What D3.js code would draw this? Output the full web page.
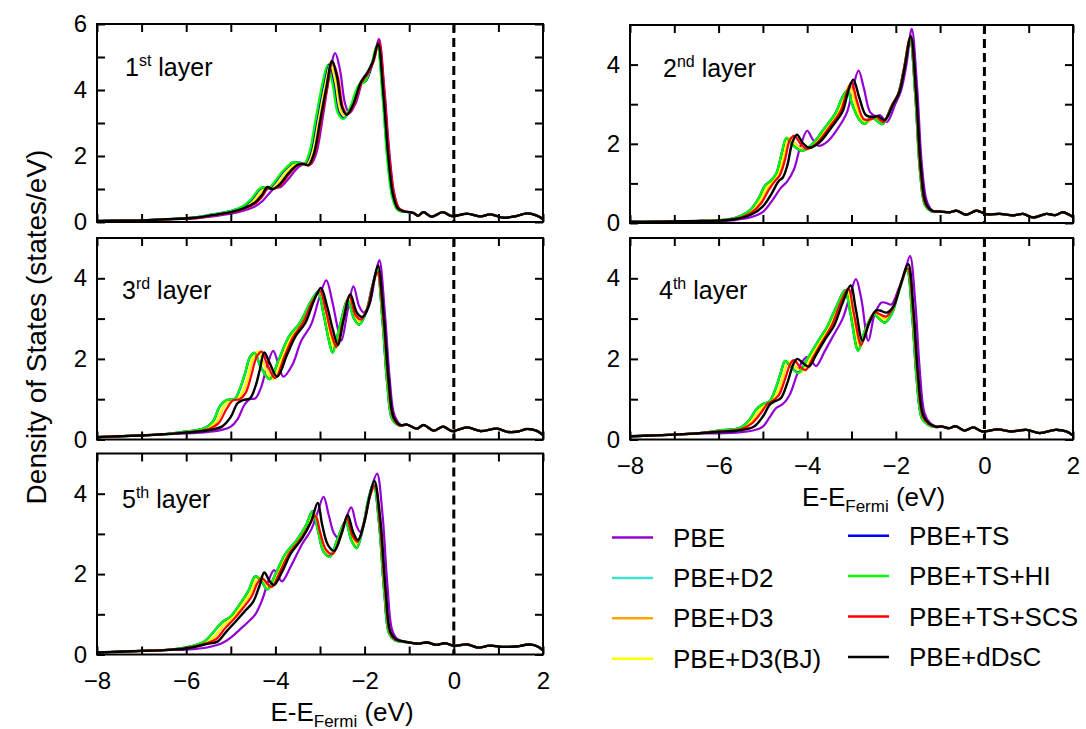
<!DOCTYPE html>
<html>
<head>
<meta charset="utf-8">
<script src="https://cdn.jsdelivr.net/npm/d3@7"></script>
<style>
  body { margin: 0; background: #fff; }
  svg text { font-family: "Liberation Sans", Arial, sans-serif; fill: #000; }
</style>
</head>
<body>
<svg id="chart" width="1086" height="729"></svg>
<script>
// methods and their colours, drawn in this order (last on top)
const methods = ["PBE", "PBE+D2", "PBE+D3", "PBE+D3(BJ)", "PBE+TS", "PBE+TS+HI", "PBE+TS+SCS", "PBE+dDsC"];
const colors = ["#9400d3", "#40e0d0", "#ffa500", "#ffff00", "#0000ff", "#00ff00", "#ff0000", "#000000"];
const layerNames = [["1", "st"], ["2", "nd"], ["3", "rd"], ["4", "th"], ["5", "th"]];
const xTickValues = [-8, -7, -6, -5, -4, -3, -2, -1, 0, 1, 2];
const xLabelValues = [-8, -6, -4, -2, 0, 2];

// ---- layer 1 ----
const L1_left = [[-8,0.03],[-7.5,0.04],[-7,0.05],[-6.5,0.08]];
const L1_right = [[-1.0,0.3],[-0.9,0.27],[-0.8,0.19],[-0.68,0.3],[-0.5,0.16],[-0.25,0.3],[-0.05,0.18],[0.3,0.25],[0.6,0.17],[0.82,0.23],[1.12,0.13],[1.4,0.18],[1.64,0.26],[1.85,0.2],[2.0,0.08]];
const L1_PBE = [[-5.8,0.11],[-5.4,0.17],[-5.0,0.25],[-4.7,0.35],[-4.45,0.48],[-4.3,0.62],[-4.15,0.85],[-4.02,1.02],[-3.88,1.06],[-3.68,1.35],[-3.47,1.68],[-3.32,1.76],[-3.2,1.76],[-3.08,2.1],[-2.94,3.15],[-2.8,4.35],[-2.66,5.12],[-2.55,4.6],[-2.44,3.6],[-2.34,3.3],[-2.2,3.6],[-2.03,4.35],[-1.9,4.6],[-1.79,4.95],[-1.68,5.55],[-1.56,4.1],[-1.45,2.2],[-1.34,0.9],[-1.23,0.42],[-1.1,0.32]];
const L1_D2 = [[-5.8,0.14],[-5.4,0.23],[-5.0,0.33],[-4.74,0.46],[-4.54,0.68],[-4.39,0.95],[-4.29,1.05],[-4.17,1.0],[-4.02,1.2],[-3.82,1.55],[-3.61,1.8],[-3.47,1.8],[-3.35,1.75],[-3.23,2.1],[-3.09,3.1],[-2.95,4.1],[-2.82,4.76],[-2.71,4.22],[-2.59,3.32],[-2.47,3.14],[-2.32,3.46],[-2.12,4.16],[-1.98,4.27],[-1.84,4.76],[-1.72,5.36],[-1.6,3.86],[-1.49,1.9],[-1.38,0.75],[-1.27,0.38],[-1.14,0.31]];
const L1_D3 = [[-5.8,0.13],[-5.4,0.21],[-5.0,0.31],[-4.71,0.44],[-4.49,0.64],[-4.34,0.88],[-4.22,1.05],[-4.11,1.0],[-3.96,1.15],[-3.76,1.5],[-3.56,1.76],[-3.42,1.78],[-3.3,1.73],[-3.18,2.08],[-3.04,3.1],[-2.9,4.1],[-2.77,4.8],[-2.66,4.32],[-2.54,3.37],[-2.43,3.21],[-2.29,3.5],[-2.09,4.2],[-1.96,4.37],[-1.83,4.8],[-1.71,5.38],[-1.59,3.9],[-1.48,1.95],[-1.37,0.78],[-1.26,0.39],[-1.13,0.31]];
const L1_D3BJ = [[-5.8,0.13],[-5.4,0.21],[-5.0,0.31],[-4.72,0.44],[-4.5,0.64],[-4.35,0.88],[-4.23,1.05],[-4.12,1.0],[-3.97,1.15],[-3.77,1.5],[-3.57,1.76],[-3.43,1.78],[-3.31,1.73],[-3.19,2.08],[-3.05,3.1],[-2.91,4.1],[-2.78,4.8],[-2.67,4.3],[-2.55,3.35],[-2.44,3.2],[-2.3,3.5],[-2.1,4.2],[-1.97,4.35],[-1.84,4.8],[-1.71,5.38],[-1.59,3.9],[-1.48,1.95],[-1.37,0.78],[-1.26,0.39],[-1.13,0.31]];
const L1_TS = [[-5.8,0.14],[-5.4,0.23],[-5.0,0.33],[-4.73,0.46],[-4.53,0.68],[-4.38,0.95],[-4.28,1.05],[-4.16,1.0],[-4.01,1.2],[-3.81,1.55],[-3.6,1.8],[-3.46,1.8],[-3.34,1.75],[-3.22,2.1],[-3.08,3.1],[-2.94,4.1],[-2.81,4.77],[-2.7,4.22],[-2.58,3.32],[-2.46,3.15],[-2.31,3.47],[-2.11,4.17],[-1.97,4.28],[-1.83,4.77],[-1.71,5.36],[-1.59,3.87],[-1.48,1.92],[-1.37,0.76],[-1.26,0.38],[-1.13,0.31]];
const L1_TSHI = [[-5.8,0.14],[-5.4,0.23],[-5.0,0.33],[-4.75,0.46],[-4.55,0.68],[-4.4,0.95],[-4.3,1.05],[-4.18,1.0],[-4.03,1.2],[-3.83,1.55],[-3.62,1.8],[-3.48,1.8],[-3.36,1.75],[-3.24,2.1],[-3.1,3.1],[-2.96,4.1],[-2.83,4.75],[-2.72,4.2],[-2.6,3.3],[-2.48,3.12],[-2.33,3.45],[-2.13,4.15],[-1.99,4.25],[-1.85,4.75],[-1.72,5.35],[-1.6,3.85],[-1.49,1.9],[-1.38,0.75],[-1.27,0.38],[-1.14,0.31]];
const L1_TSSCS = [[-5.8,0.12],[-5.4,0.2],[-5.0,0.29],[-4.7,0.4],[-4.43,0.58],[-4.28,0.8],[-4.16,1.04],[-4.05,1.0],[-3.9,1.1],[-3.7,1.44],[-3.5,1.72],[-3.36,1.77],[-3.24,1.72],[-3.12,2.05],[-2.98,3.05],[-2.84,4.05],[-2.72,4.85],[-2.6,4.4],[-2.48,3.45],[-2.38,3.27],[-2.24,3.55],[-2.06,4.25],[-1.93,4.48],[-1.8,4.85],[-1.68,5.45],[-1.56,3.95],[-1.45,2.05],[-1.34,0.85],[-1.23,0.42],[-1.1,0.32]];
const L1_dDsC = [[-5.8,0.13],[-5.4,0.21],[-5.0,0.3],[-4.7,0.42],[-4.45,0.6],[-4.3,0.82],[-4.18,1.06],[-4.07,1.0],[-3.92,1.12],[-3.72,1.45],[-3.52,1.72],[-3.38,1.76],[-3.26,1.72],[-3.14,2.05],[-3.0,3.05],[-2.86,4.05],[-2.73,4.88],[-2.62,4.4],[-2.5,3.45],[-2.4,3.25],[-2.26,3.55],[-2.08,4.25],[-1.95,4.5],[-1.82,4.85],[-1.7,5.4],[-1.58,3.9],[-1.47,2.0],[-1.36,0.8],[-1.25,0.4],[-1.12,0.32]];

// ---- layer 2 ----
const L2_left = [[-8,0.03],[-7.5,0.03],[-7,0.04],[-6.5,0.05]];
const L2_right = [[-1.0,0.29],[-0.78,0.27],[-0.63,0.31],[-0.41,0.21],[-0.18,0.31],[0.06,0.22],[0.35,0.23],[0.65,0.19],[0.87,0.23],[1.1,0.14],[1.4,0.23],[1.6,0.2],[1.77,0.27],[2.0,0.15]];
const L2_PBE = [[-6.0,0.05],[-5.6,0.08],[-5.25,0.15],[-5.0,0.28],[-4.8,0.55],[-4.6,0.88],[-4.45,1.05],[-4.3,1.35],[-4.15,1.95],[-4.0,2.33],[-3.88,2.12],[-3.75,1.95],[-3.55,2.05],[-3.3,2.4],[-3.1,2.8],[-2.96,3.45],[-2.84,3.85],[-2.72,3.4],[-2.58,2.8],[-2.45,2.7],[-2.35,2.72],[-2.2,2.55],[-2.02,2.98],[-1.88,3.35],[-1.76,4.0],[-1.64,4.9],[-1.52,3.45],[-1.41,1.45],[-1.3,0.55],[-1.17,0.31]];
const L2_D2 = [[-6.0,0.07],[-5.6,0.14],[-5.29,0.32],[-5.09,0.62],[-4.94,0.95],[-4.81,1.07],[-4.69,1.25],[-4.57,1.75],[-4.46,2.15],[-4.33,1.98],[-4.11,1.82],[-3.89,1.98],[-3.61,2.38],[-3.34,2.8],[-3.21,3.16],[-3.09,3.34],[-2.96,2.96],[-2.81,2.6],[-2.69,2.51],[-2.54,2.68],[-2.44,2.6],[-2.29,2.5],[-2.09,2.95],[-1.95,3.25],[-1.82,3.88],[-1.68,4.65],[-1.56,3.2],[-1.45,1.25],[-1.34,0.45],[-1.2,0.3]];
const L2_D3 = [[-6.0,0.07],[-5.6,0.12],[-5.28,0.27],[-5.06,0.55],[-4.89,0.9],[-4.76,1.07],[-4.65,1.24],[-4.53,1.68],[-4.42,2.15],[-4.3,2.03],[-4.07,1.85],[-3.84,2.0],[-3.56,2.4],[-3.29,2.8],[-3.16,3.22],[-3.04,3.47],[-2.91,3.02],[-2.76,2.59],[-2.63,2.56],[-2.49,2.67],[-2.39,2.63],[-2.27,2.53],[-2.08,2.97],[-1.93,3.28],[-1.81,3.9],[-1.67,4.69],[-1.55,3.27],[-1.44,1.29],[-1.33,0.47],[-1.19,0.3]];
const L2_D3BJ = [[-6.0,0.07],[-5.6,0.12],[-5.29,0.28],[-5.07,0.56],[-4.9,0.92],[-4.77,1.07],[-4.66,1.25],[-4.54,1.7],[-4.43,2.15],[-4.31,2.02],[-4.08,1.84],[-3.85,2.0],[-3.57,2.4],[-3.3,2.8],[-3.17,3.2],[-3.05,3.45],[-2.92,3.0],[-2.77,2.58],[-2.64,2.55],[-2.5,2.67],[-2.4,2.62],[-2.28,2.52],[-2.09,2.96],[-1.94,3.27],[-1.82,3.9],[-1.68,4.68],[-1.56,3.25],[-1.45,1.28],[-1.34,0.46],[-1.2,0.3]];
const L2_TS = [[-6.0,0.07],[-5.6,0.14],[-5.3,0.32],[-5.1,0.62],[-4.95,0.95],[-4.82,1.07],[-4.7,1.25],[-4.58,1.74],[-4.47,2.14],[-4.34,1.98],[-4.12,1.82],[-3.9,1.98],[-3.62,2.38],[-3.35,2.8],[-3.22,3.15],[-3.1,3.34],[-2.97,2.95],[-2.82,2.6],[-2.7,2.5],[-2.55,2.68],[-2.45,2.6],[-2.3,2.5],[-2.1,2.95],[-1.95,3.25],[-1.82,3.88],[-1.68,4.65],[-1.56,3.2],[-1.45,1.25],[-1.34,0.45],[-1.2,0.3]];
const L2_TSHI = [[-6.0,0.07],[-5.6,0.14],[-5.3,0.32],[-5.1,0.62],[-4.95,0.95],[-4.82,1.07],[-4.7,1.25],[-4.58,1.75],[-4.47,2.15],[-4.34,1.98],[-4.12,1.82],[-3.9,1.98],[-3.62,2.38],[-3.35,2.8],[-3.22,3.15],[-3.1,3.33],[-2.97,2.95],[-2.82,2.6],[-2.7,2.5],[-2.55,2.68],[-2.45,2.6],[-2.3,2.5],[-2.1,2.95],[-1.95,3.25],[-1.82,3.88],[-1.68,4.65],[-1.56,3.2],[-1.45,1.25],[-1.34,0.45],[-1.2,0.3]];
const L2_TSSCS = [[-6.0,0.06],[-5.6,0.11],[-5.28,0.25],[-5.04,0.5],[-4.86,0.85],[-4.72,1.07],[-4.62,1.2],[-4.5,1.6],[-4.39,2.1],[-4.29,2.2],[-4.15,2.0],[-4.0,1.87],[-3.78,2.02],[-3.5,2.42],[-3.25,2.82],[-3.12,3.25],[-3.0,3.55],[-2.87,3.05],[-2.72,2.62],[-2.56,2.62],[-2.44,2.68],[-2.28,2.55],[-2.08,2.98],[-1.93,3.3],[-1.81,3.92],[-1.67,4.7],[-1.55,3.3],[-1.44,1.3],[-1.33,0.48],[-1.19,0.31]];
const L2_dDsC = [[-6.0,0.06],[-5.6,0.1],[-5.25,0.22],[-5.0,0.42],[-4.8,0.75],[-4.65,1.05],[-4.55,1.15],[-4.45,1.45],[-4.33,2.05],[-4.23,2.23],[-4.1,2.02],[-3.95,1.9],[-3.72,2.04],[-3.45,2.42],[-3.2,2.82],[-3.08,3.3],[-2.96,3.62],[-2.82,3.15],[-2.67,2.72],[-2.5,2.68],[-2.4,2.7],[-2.25,2.6],[-2.06,3.0],[-1.92,3.3],[-1.8,3.92],[-1.66,4.72],[-1.54,3.3],[-1.43,1.35],[-1.32,0.5],[-1.18,0.31]];

// ---- layer 3 ----
const L3_left = [[-8,0.06],[-7.5,0.08],[-7,0.1],[-6.5,0.13]];
const L3_right = [[-1.05,0.37],[-0.83,0.27],[-0.68,0.36],[-0.45,0.22],[-0.24,0.32],[-0.04,0.21],[0.3,0.3],[0.6,0.21],[0.97,0.27],[1.2,0.19],[1.45,0.2],[1.64,0.26],[1.85,0.22],[2.0,0.11]];
const L3_PBE = [[-6.0,0.15],[-5.5,0.19],[-5.2,0.24],[-5.0,0.32],[-4.85,0.5],[-4.7,0.85],[-4.58,1.0],[-4.45,1.02],[-4.32,1.3],[-4.18,1.85],[-4.05,2.2],[-3.94,1.9],[-3.82,1.56],[-3.62,1.85],[-3.42,2.45],[-3.2,2.85],[-3.02,3.5],[-2.86,3.95],[-2.72,3.4],[-2.6,2.75],[-2.52,2.45],[-2.38,3.2],[-2.25,3.8],[-2.12,3.3],[-2.02,3.15],[-1.88,3.4],[-1.77,4.0],[-1.67,4.45],[-1.55,3.2],[-1.44,1.55],[-1.33,0.6],[-1.18,0.36]];
const L3_D2 = [[-6.0,0.2],[-5.6,0.28],[-5.39,0.45],[-5.24,0.82],[-5.09,0.98],[-4.91,1.0],[-4.79,1.25],[-4.67,1.65],[-4.56,2.05],[-4.46,2.15],[-4.32,1.8],[-4.12,1.5],[-3.91,2.0],[-3.69,2.55],[-3.44,2.9],[-3.21,3.4],[-3.04,3.65],[-2.91,3.1],[-2.79,2.46],[-2.71,2.17],[-2.54,2.85],[-2.37,3.45],[-2.23,3.0],[-2.11,2.86],[-1.96,3.15],[-1.84,3.75],[-1.72,4.2],[-1.6,2.95],[-1.49,1.35],[-1.38,0.5],[-1.23,0.35]];
const L3_D3 = [[-6.0,0.19],[-5.58,0.26],[-5.32,0.45],[-5.16,0.8],[-5.01,0.98],[-4.85,1.0],[-4.72,1.2],[-4.6,1.6],[-4.49,2.05],[-4.38,2.18],[-4.25,1.85],[-4.06,1.5],[-3.85,2.02],[-3.64,2.55],[-3.4,2.9],[-3.19,3.4],[-3.02,3.66],[-2.89,3.15],[-2.76,2.53],[-2.66,2.24],[-2.51,2.89],[-2.35,3.5],[-2.21,3.04],[-2.09,2.92],[-1.95,3.2],[-1.83,3.79],[-1.72,4.18],[-1.59,2.97],[-1.48,1.4],[-1.37,0.52],[-1.22,0.35]];
const L3_D3BJ = [[-6.0,0.19],[-5.58,0.26],[-5.33,0.45],[-5.17,0.8],[-5.02,0.98],[-4.86,1.0],[-4.73,1.2],[-4.61,1.6],[-4.5,2.05],[-4.39,2.18],[-4.26,1.85],[-4.07,1.5],[-3.86,2.02],[-3.65,2.55],[-3.41,2.9],[-3.2,3.4],[-3.03,3.66],[-2.9,3.15],[-2.77,2.52],[-2.67,2.22],[-2.52,2.88],[-2.36,3.5],[-2.22,3.03],[-2.1,2.9],[-1.96,3.2],[-1.83,3.78],[-1.72,4.18],[-1.59,2.97],[-1.48,1.4],[-1.37,0.52],[-1.22,0.35]];
const L3_TS = [[-6.0,0.2],[-5.6,0.28],[-5.4,0.45],[-5.25,0.82],[-5.1,0.98],[-4.92,1.0],[-4.8,1.25],[-4.68,1.65],[-4.57,2.05],[-4.47,2.15],[-4.33,1.8],[-4.13,1.5],[-3.92,2.0],[-3.7,2.55],[-3.45,2.9],[-3.22,3.4],[-3.05,3.66],[-2.92,3.1],[-2.8,2.45],[-2.72,2.16],[-2.55,2.85],[-2.38,3.46],[-2.24,3.0],[-2.12,2.85],[-1.97,3.15],[-1.84,3.75],[-1.72,4.2],[-1.6,2.95],[-1.49,1.35],[-1.38,0.5],[-1.23,0.35]];
const L3_TSHI = [[-6.0,0.2],[-5.6,0.28],[-5.4,0.45],[-5.25,0.82],[-5.1,0.98],[-4.92,1.0],[-4.8,1.25],[-4.68,1.65],[-4.57,2.05],[-4.47,2.15],[-4.33,1.8],[-4.13,1.5],[-3.92,2.0],[-3.7,2.55],[-3.45,2.9],[-3.22,3.4],[-3.05,3.65],[-2.92,3.1],[-2.8,2.45],[-2.72,2.15],[-2.55,2.85],[-2.38,3.45],[-2.24,3.0],[-2.12,2.85],[-1.97,3.15],[-1.84,3.75],[-1.72,4.2],[-1.6,2.95],[-1.49,1.35],[-1.38,0.5],[-1.23,0.35]];
const L3_TSSCS = [[-6.0,0.18],[-5.55,0.24],[-5.28,0.4],[-5.1,0.75],[-4.95,0.97],[-4.8,1.0],[-4.67,1.15],[-4.55,1.55],[-4.42,2.05],[-4.31,2.18],[-4.18,1.85],[-4.0,1.52],[-3.8,2.05],[-3.6,2.55],[-3.38,2.9],[-3.17,3.42],[-3.0,3.68],[-2.87,3.2],[-2.74,2.6],[-2.63,2.3],[-2.49,2.92],[-2.34,3.55],[-2.2,3.08],[-2.08,2.98],[-1.94,3.25],[-1.82,3.82],[-1.71,4.15],[-1.58,3.0],[-1.47,1.45],[-1.36,0.54],[-1.21,0.35]];
const L3_dDsC = [[-6.0,0.17],[-5.5,0.23],[-5.2,0.32],[-5.0,0.56],[-4.85,0.9],[-4.72,0.98],[-4.57,1.02],[-4.45,1.31],[-4.35,1.73],[-4.25,2.16],[-4.13,1.9],[-3.96,1.56],[-3.74,2.1],[-3.55,2.56],[-3.33,2.89],[-3.14,3.43],[-2.98,3.76],[-2.84,3.3],[-2.71,2.72],[-2.6,2.35],[-2.47,2.97],[-2.32,3.6],[-2.17,3.14],[-2.05,3.04],[-1.91,3.3],[-1.8,3.89],[-1.7,4.32],[-1.57,3.06],[-1.46,1.48],[-1.35,0.56],[-1.2,0.36]];

// ---- layer 4 ----
const L4_left = [[-8,0.08],[-7.5,0.1],[-7,0.12],[-6.5,0.15]];
const L4_right = [[-0.95,0.32],[-0.8,0.28],[-0.65,0.33],[-0.45,0.22],[-0.25,0.3],[-0.05,0.2],[0.3,0.25],[0.6,0.2],[0.95,0.24],[1.25,0.16],[1.6,0.24],[1.85,0.2],[2.0,0.1]];
const L4_PBE = [[-6.0,0.15],[-5.5,0.18],[-5.2,0.23],[-5.0,0.32],[-4.85,0.55],[-4.7,0.78],[-4.55,0.88],[-4.4,1.1],[-4.25,1.55],[-4.12,1.92],[-4.0,2.05],[-3.9,1.95],[-3.8,1.82],[-3.6,2.2],[-3.4,2.6],[-3.2,3.0],[-3.04,3.55],[-2.9,3.98],[-2.78,3.5],[-2.62,2.45],[-2.48,3.1],[-2.32,3.4],[-2.2,3.38],[-2.1,3.35],[-1.95,3.7],[-1.8,4.15],[-1.68,4.55],[-1.56,3.4],[-1.46,1.75],[-1.35,0.65],[-1.22,0.4],[-1.08,0.32]];
const L4_D2 = [[-6.0,0.22],[-5.5,0.3],[-5.29,0.5],[-5.14,0.75],[-4.99,0.88],[-4.84,0.95],[-4.71,1.25],[-4.59,1.65],[-4.49,1.95],[-4.37,1.82],[-4.19,1.66],[-3.99,2.0],[-3.74,2.45],[-3.54,2.8],[-3.31,3.35],[-3.14,3.7],[-3.01,3.1],[-2.84,2.22],[-2.69,2.7],[-2.49,3.1],[-2.37,3.0],[-2.24,2.9],[-2.09,3.1],[-1.93,3.65],[-1.75,4.2],[-1.63,3.05],[-1.53,1.5],[-1.41,0.52],[-1.28,0.37],[-1.12,0.31]];
const L4_D3 = [[-6.0,0.21],[-5.5,0.27],[-5.27,0.45],[-5.09,0.7],[-4.94,0.88],[-4.81,0.96],[-4.67,1.15],[-4.54,1.58],[-4.43,1.93],[-4.32,1.85],[-4.11,1.69],[-3.92,2.02],[-3.69,2.45],[-3.49,2.8],[-3.28,3.36],[-3.1,3.72],[-2.98,3.13],[-2.81,2.29],[-2.67,2.76],[-2.49,3.12],[-2.39,3.08],[-2.22,2.98],[-2.07,3.19],[-1.92,3.71],[-1.74,4.22],[-1.62,3.1],[-1.52,1.55],[-1.4,0.55],[-1.27,0.38],[-1.11,0.31]];
const L4_D3BJ = [[-6.0,0.21],[-5.5,0.27],[-5.28,0.45],[-5.1,0.7],[-4.95,0.88],[-4.82,0.96],[-4.68,1.15],[-4.55,1.58],[-4.44,1.93],[-4.33,1.85],[-4.12,1.68],[-3.93,2.02],[-3.7,2.45],[-3.5,2.8],[-3.29,3.36],[-3.11,3.72],[-2.99,3.12],[-2.82,2.27],[-2.68,2.75],[-2.5,3.12],[-2.4,3.07],[-2.23,2.97],[-2.08,3.18],[-1.93,3.7],[-1.74,4.22],[-1.62,3.1],[-1.52,1.55],[-1.4,0.55],[-1.27,0.38],[-1.11,0.31]];
const L4_TS = [[-6.0,0.22],[-5.5,0.3],[-5.3,0.5],[-5.15,0.75],[-5.0,0.88],[-4.85,0.95],[-4.72,1.25],[-4.6,1.65],[-4.5,1.95],[-4.38,1.82],[-4.2,1.66],[-4.0,2.0],[-3.75,2.45],[-3.55,2.8],[-3.32,3.35],[-3.15,3.7],[-3.02,3.1],[-2.85,2.21],[-2.7,2.7],[-2.5,3.1],[-2.38,3.0],[-2.25,2.9],[-2.1,3.1],[-1.94,3.65],[-1.75,4.2],[-1.63,3.05],[-1.53,1.5],[-1.41,0.52],[-1.28,0.37],[-1.12,0.31]];
const L4_TSHI = [[-6.0,0.22],[-5.5,0.3],[-5.3,0.5],[-5.15,0.75],[-5.0,0.88],[-4.85,0.95],[-4.72,1.25],[-4.6,1.65],[-4.5,1.95],[-4.38,1.82],[-4.2,1.65],[-4.0,2.0],[-3.75,2.45],[-3.55,2.8],[-3.32,3.35],[-3.15,3.7],[-3.02,3.1],[-2.85,2.2],[-2.7,2.7],[-2.5,3.1],[-2.38,3.0],[-2.25,2.9],[-2.1,3.1],[-1.94,3.65],[-1.75,4.2],[-1.63,3.05],[-1.53,1.5],[-1.41,0.52],[-1.28,0.37],[-1.12,0.31]];
const L4_TSSCS = [[-6.0,0.2],[-5.5,0.25],[-5.25,0.4],[-5.05,0.65],[-4.9,0.88],[-4.78,0.96],[-4.64,1.1],[-4.5,1.5],[-4.38,1.88],[-4.3,1.97],[-4.17,1.82],[-4.04,1.72],[-3.86,2.05],[-3.65,2.45],[-3.45,2.82],[-3.25,3.38],[-3.07,3.75],[-2.95,3.15],[-2.78,2.35],[-2.64,2.8],[-2.48,3.15],[-2.38,3.12],[-2.22,3.05],[-2.07,3.25],[-1.92,3.75],[-1.73,4.25],[-1.61,3.15],[-1.51,1.6],[-1.39,0.57],[-1.26,0.39],[-1.11,0.32]];
const L4_dDsC = [[-6.0,0.19],[-5.5,0.23],[-5.2,0.32],[-5.0,0.57],[-4.85,0.86],[-4.75,0.94],[-4.6,1.02],[-4.45,1.4],[-4.3,1.9],[-4.22,2.0],[-4.1,1.9],[-3.96,1.81],[-3.8,2.1],[-3.6,2.48],[-3.4,2.81],[-3.2,3.39],[-3.02,3.82],[-2.9,3.22],[-2.75,2.45],[-2.6,2.89],[-2.45,3.2],[-2.36,3.2],[-2.2,3.15],[-2.05,3.31],[-1.9,3.81],[-1.72,4.35],[-1.6,3.22],[-1.5,1.65],[-1.38,0.6],[-1.25,0.4],[-1.1,0.32]];

// ---- layer 5 ----
const L5_left = [[-8,0.05],[-7.5,0.07],[-7,0.09],[-6.5,0.11]];
const L5_right = [[-1.0,0.3],[-0.8,0.27],[-0.6,0.3],[-0.4,0.24],[-0.2,0.28],[0.0,0.22],[0.3,0.25],[0.55,0.17],[0.8,0.22],[1.1,0.19],[1.4,0.2],[1.7,0.25],[1.88,0.2],[2.0,0.1]];
const L5_PBE = [[-6.0,0.12],[-5.5,0.18],[-5.2,0.28],[-5.0,0.42],[-4.8,0.62],[-4.6,0.82],[-4.45,1.0],[-4.3,1.35],[-4.15,1.85],[-4.03,2.1],[-3.93,1.92],[-3.85,1.82],[-3.65,2.2],[-3.4,2.75],[-3.2,3.1],[-3.05,3.55],[-2.92,3.92],[-2.8,3.45],[-2.68,3.0],[-2.58,2.9],[-2.44,3.3],[-2.3,3.66],[-2.18,3.2],[-2.1,3.05],[-1.95,3.6],[-1.83,4.2],[-1.72,4.5],[-1.6,3.5],[-1.49,1.75],[-1.38,0.6],[-1.26,0.38],[-1.1,0.32]];
const L5_D2 = [[-6.0,0.18],[-5.6,0.32],[-5.39,0.55],[-5.19,0.8],[-4.99,0.95],[-4.79,1.25],[-4.59,1.6],[-4.44,1.95],[-4.29,1.8],[-4.17,1.63],[-3.99,2.0],[-3.77,2.5],[-3.51,2.85],[-3.31,3.2],[-3.16,3.56],[-3.04,3.1],[-2.91,2.56],[-2.77,2.44],[-2.59,2.9],[-2.42,3.3],[-2.29,2.86],[-2.17,2.65],[-2.03,3.15],[-1.91,3.85],[-1.8,4.25],[-1.68,3.3],[-1.56,1.55],[-1.45,0.52],[-1.33,0.36],[-1.18,0.32]];
const L5_D3 = [[-6.0,0.17],[-5.58,0.3],[-5.36,0.45],[-5.16,0.72],[-4.96,0.92],[-4.76,1.2],[-4.56,1.52],[-4.42,1.88],[-4.36,1.93],[-4.23,1.74],[-4.12,1.66],[-3.94,2.02],[-3.73,2.5],[-3.48,2.85],[-3.28,3.2],[-3.12,3.49],[-3.01,3.08],[-2.88,2.57],[-2.74,2.47],[-2.56,2.92],[-2.41,3.36],[-2.28,2.91],[-2.17,2.74],[-2.03,3.21],[-1.9,3.87],[-1.78,4.22],[-1.67,3.3],[-1.55,1.57],[-1.44,0.53],[-1.32,0.36],[-1.17,0.32]];
const L5_D3BJ = [[-6.0,0.17],[-5.58,0.3],[-5.37,0.45],[-5.17,0.72],[-4.97,0.92],[-4.77,1.2],[-4.57,1.52],[-4.43,1.88],[-4.37,1.93],[-4.24,1.74],[-4.13,1.65],[-3.95,2.02],[-3.74,2.5],[-3.49,2.85],[-3.29,3.2],[-3.13,3.5],[-3.02,3.08],[-2.89,2.57],[-2.75,2.46],[-2.57,2.92],[-2.41,3.35],[-2.28,2.9],[-2.17,2.72],[-2.03,3.2],[-1.9,3.87],[-1.78,4.22],[-1.67,3.3],[-1.55,1.57],[-1.44,0.53],[-1.32,0.36],[-1.17,0.32]];
const L5_TS = [[-6.0,0.18],[-5.6,0.32],[-5.4,0.55],[-5.2,0.8],[-5.0,0.95],[-4.8,1.25],[-4.6,1.6],[-4.45,1.95],[-4.3,1.8],[-4.18,1.62],[-4.0,2.0],[-3.78,2.5],[-3.52,2.85],[-3.32,3.2],[-3.17,3.57],[-3.05,3.1],[-2.92,2.55],[-2.78,2.44],[-2.6,2.9],[-2.43,3.31],[-2.3,2.85],[-2.18,2.65],[-2.04,3.15],[-1.92,3.85],[-1.8,4.25],[-1.68,3.3],[-1.56,1.55],[-1.45,0.52],[-1.33,0.36],[-1.18,0.32]];
const L5_TSHI = [[-6.0,0.18],[-5.6,0.32],[-5.4,0.55],[-5.2,0.8],[-5.0,0.95],[-4.8,1.25],[-4.6,1.6],[-4.45,1.95],[-4.3,1.8],[-4.18,1.62],[-4.0,2.0],[-3.78,2.5],[-3.52,2.85],[-3.32,3.2],[-3.17,3.56],[-3.05,3.1],[-2.92,2.55],[-2.78,2.43],[-2.6,2.9],[-2.43,3.3],[-2.3,2.85],[-2.18,2.64],[-2.04,3.15],[-1.92,3.85],[-1.8,4.25],[-1.68,3.3],[-1.56,1.55],[-1.45,0.52],[-1.33,0.36],[-1.18,0.32]];
const L5_TSSCS = [[-6.0,0.16],[-5.55,0.28],[-5.33,0.38],[-5.13,0.65],[-4.93,0.88],[-4.73,1.15],[-4.53,1.45],[-4.4,1.78],[-4.3,1.9],[-4.18,1.76],[-4.08,1.68],[-3.9,2.05],[-3.7,2.5],[-3.45,2.85],[-3.25,3.2],[-3.1,3.45],[-3.0,3.05],[-2.86,2.6],[-2.72,2.5],[-2.54,2.95],[-2.4,3.4],[-2.27,2.95],[-2.16,2.8],[-2.02,3.25],[-1.89,3.9],[-1.77,4.2],[-1.66,3.3],[-1.54,1.6],[-1.43,0.54],[-1.31,0.37],[-1.16,0.33]];
const L5_dDsC = [[-6.0,0.15],[-5.5,0.27],[-5.3,0.32],[-5.1,0.57],[-4.9,0.81],[-4.7,1.06],[-4.5,1.31],[-4.35,1.73],[-4.25,2.04],[-4.12,1.81],[-4.03,1.73],[-3.85,2.06],[-3.65,2.52],[-3.4,2.89],[-3.2,3.31],[-3.05,3.77],[-2.95,3.22],[-2.82,2.72],[-2.68,2.58],[-2.5,3.06],[-2.38,3.47],[-2.25,3.02],[-2.15,2.85],[-2.0,3.31],[-1.88,3.97],[-1.78,4.32],[-1.65,3.39],[-1.53,1.65],[-1.42,0.56],[-1.3,0.38],[-1.15,0.33]];

const layerSeries = [
  [L1_PBE, L1_D2, L1_D3, L1_D3BJ, L1_TS, L1_TSHI, L1_TSSCS, L1_dDsC],
  [L2_PBE, L2_D2, L2_D3, L2_D3BJ, L2_TS, L2_TSHI, L2_TSSCS, L2_dDsC],
  [L3_PBE, L3_D2, L3_D3, L3_D3BJ, L3_TS, L3_TSHI, L3_TSSCS, L3_dDsC],
  [L4_PBE, L4_D2, L4_D3, L4_D3BJ, L4_TS, L4_TSHI, L4_TSSCS, L4_dDsC],
  [L5_PBE, L5_D2, L5_D3, L5_D3BJ, L5_TS, L5_TSHI, L5_TSSCS, L5_dDsC]
];
const layerTails = [[L1_left, L1_right], [L2_left, L2_right], [L3_left, L3_right], [L4_left, L4_right], [L5_left, L5_right]];
const yMax = [6, 5, 5, 5, 5];

// panel placement in pixels
const panels = [
  {x0: 97, x1: 543, y0: 24, y1: 222, xlab: false, lx: 125, ly: 76},
  {x0: 630, x1: 1073, y0: 25, y1: 223, xlab: false, lx: 663, ly: 77},
  {x0: 97, x1: 543, y0: 238, y1: 439.5, xlab: false, lx: 122, ly: 299},
  {x0: 630, x1: 1073, y0: 238, y1: 439.5, xlab: true, lx: 659, ly: 299},
  {x0: 97, x1: 543, y0: 453.5, y1: 654.5, xlab: true, lx: 122, ly: 508}
];

const svg = d3.select('#chart');
const defs = svg.append('defs');

panels.forEach((p, i) => {
  const x = d3.scaleLinear().domain([-8, 2]).range([p.x0, p.x1]);
  const y = d3.scaleLinear().domain([0, yMax[i]]).range([p.y1, p.y0]);
  const g = svg.append('g');

  defs.append('clipPath').attr('id', 'clip' + i)
    .append('rect')
    .attr('x', p.x0).attr('y', p.y0)
    .attr('width', p.x1 - p.x0).attr('height', p.y1 - p.y0);

  const line = d3.line()
    .x(d => x(d[0]))
    .y(d => y(d[1]))
    .curve(d3.curveCatmullRom.alpha(0.5));

  const [left, right] = layerTails[i];
  const curves = g.append('g').attr('clip-path', `url(#clip${i})`);
  layerSeries[i].forEach((s, k) => {
    curves.append('path')
      .datum(left.concat(s, right))
      .attr('fill', 'none')
      .attr('stroke', colors[k])
      .attr('stroke-width', k === 7 ? 2.4 : 2.2)
      .attr('stroke-linejoin', 'round')
      .attr('d', line);
  });

  // Fermi level
  g.append('line')
    .attr('x1', x(0)).attr('x2', x(0))
    .attr('y1', p.y0).attr('y2', p.y1)
    .attr('stroke', '#000').attr('stroke-width', 3)
    .attr('stroke-dasharray', '9,5');

  const yTicks = d3.range(0, yMax[i] + 0.5, 1).filter(v => v <= (i === 0 ? 6 : 4.9));
  const fmt = d3.format('d');

  const axB = g.append('g').attr('transform', `translate(0,${p.y1})`)
    .call(d3.axisBottom(x).tickValues(xTickValues).tickSize(-8).tickSizeOuter(0).tickPadding(17)
      .tickFormat(d => (p.xlab && xLabelValues.includes(d)) ? fmt(d) : ''));
  const axT = g.append('g').attr('transform', `translate(0,${p.y0})`)
    .call(d3.axisTop(x).tickValues(xTickValues).tickSize(-8).tickSizeOuter(0).tickFormat(''));
  const axL = g.append('g').attr('transform', `translate(${p.x0},0)`)
    .call(d3.axisLeft(y).tickValues(yTicks).tickSize(-8).tickSizeOuter(0).tickPadding(10)
      .tickFormat(d => d % 2 === 0 ? fmt(d) : ''));
  const axR = g.append('g').attr('transform', `translate(${p.x1},0)`)
    .call(d3.axisRight(y).tickValues(yTicks).tickSize(-8).tickSizeOuter(0).tickFormat(''));

  [axB, axT, axL, axR].forEach(a => {
    a.select('.domain').remove();
    a.selectAll('.tick line').attr('stroke', '#000').attr('stroke-width', 2);
    a.selectAll('.tick text').attr('font-size', 24)
      .style('font-family', '"Liberation Sans", Arial, sans-serif');
  });

  g.append('rect')
    .attr('x', p.x0).attr('y', p.y0)
    .attr('width', p.x1 - p.x0).attr('height', p.y1 - p.y0)
    .attr('fill', 'none').attr('stroke', '#000').attr('stroke-width', 2);

  const lab = g.append('text').attr('x', p.lx).attr('y', p.ly).attr('font-size', 25);
  lab.append('tspan').text(layerNames[i][0]);
  lab.append('tspan').attr('font-size', 16).attr('dy', -10).text(layerNames[i][1]);
  lab.append('tspan').attr('dy', 10).text(' layer');

  if (p.xlab) {
    const t = g.append('text')
      .attr('x', (p.x0 + p.x1) / 2 + 22).attr('y', p.y1 + 66)
      .attr('text-anchor', 'middle').attr('font-size', 26);
    t.append('tspan').text('E-E');
    t.append('tspan').attr('font-size', 17).attr('dy', 6).text('Fermi');
    t.append('tspan').attr('dy', -6).text(' (eV)');
  }
});

svg.append('text')
  .attr('transform', 'translate(36,327) rotate(-90)')
  .attr('text-anchor', 'middle')
  .attr('dominant-baseline', 'central')
  .attr('font-size', 28)
  .text('Density of States (states/eV)');

// legend
const legend = svg.append('g');
methods.forEach((m, k) => {
  const col = Math.floor(k / 4), row = k % 4;
  const ly = (col === 0 ? 537.5 : 535.7) + row * 40.4;
  const lx = col === 0 ? 612 : 848;
  legend.append('line')
    .attr('x1', lx).attr('x2', lx + 41)
    .attr('y1', ly).attr('y2', ly)
    .attr('stroke', colors[k]).attr('stroke-width', 2.5);
  legend.append('text')
    .attr('x', lx + 61).attr('y', ly + 9)
    .attr('font-size', 26)
    .text(m);
});
</script>
</body>
</html>
